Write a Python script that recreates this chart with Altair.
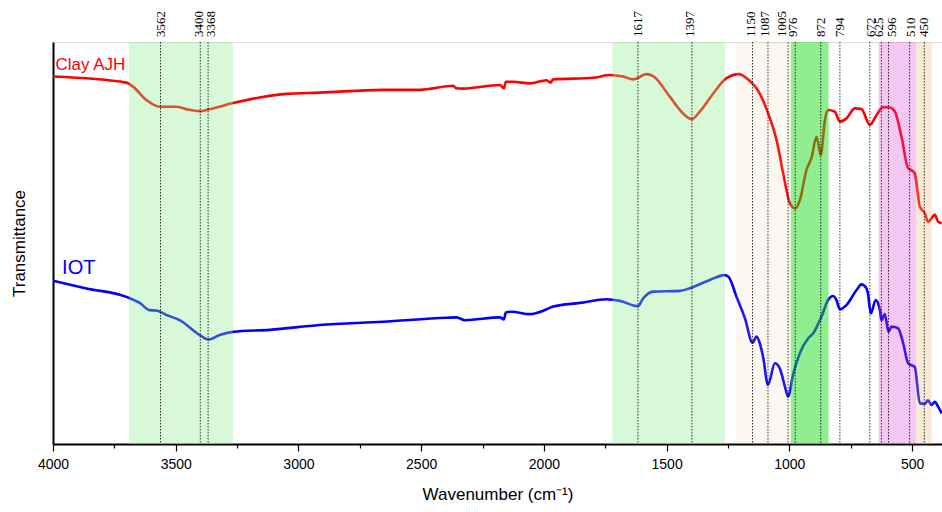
import altair as alt
import pandas as pd

wn_clay = [4000, 3701, 3674, 3620, 3565, 3498, 3457, 3402, 3362, 3267, 3158, 3050, 2914, 2656,
           2505, 2369, 2358, 2329, 2179, 2163, 2155, 2125, 2057, 1989, 1973, 1962, 1799, 1731,
           1677, 1636, 1582, 1555, 1487, 1446, 1397, 1365, 1310, 1256, 1205, 1174, 1154, 1134,
           1079, 1052, 1025, 998, 976, 957, 930, 910, 889, 872, 855, 842, 815, 794, 767, 733,
           706, 672, 645, 618, 591, 570, 543, 516, 505, 489, 468, 448, 435, 407, 394, 379]
t_clay = [91.4, 89.9, 88.9, 85.6, 83.9, 83.9, 83.3, 82.8, 83.3, 84.8, 86.2, 87.1, 87.4, 88.1,
          88.1, 89.1, 88.5, 88.4, 89.3, 88.5, 90.1, 90.1, 89.7, 90.5, 89.9, 90.7, 91.1, 91.8,
          91.4, 90.7, 92.0, 91.5, 86.4, 83.1, 80.8, 82.7, 87.2, 91.0, 92.0, 91.0, 89.9, 88.5,
          81.0, 75.6, 67.3, 59.9, 58.6, 60.7, 68.2, 71.1, 76.4, 71.9, 80.6, 83.1, 82.7, 80.2, 81.0, 83.5,
          83.3, 79.4, 81.8, 83.8, 83.7, 82.7, 76.4, 68.6, 68.2, 67.3, 59.0, 57.4, 55.3, 57.0, 55.3, 54.9]

wn_iot = [4000, 3864, 3701, 3647, 3606, 3579, 3538, 3484, 3402, 3368, 3321, 3267, 3117, 2914,
          2656, 2396, 2356, 2322, 2179, 2163, 2155, 2132, 2057, 1989, 1962, 1853, 1745, 1690,
          1617, 1596, 1555, 1446, 1408, 1324, 1265, 1248, 1215, 1181, 1150, 1134, 1120, 1107,
          1087, 1059, 1039, 1018, 1005, 985, 957, 923, 903, 869, 842, 822, 808, 794, 767, 726,
          706, 686, 680, 668, 648, 631, 625, 611, 596, 584, 557, 536, 516, 505, 489, 468, 448,
          435, 421, 407, 394, 379]
t_iot = [40.6, 38.7, 36.6, 35.1, 33.3, 33.2, 32.1, 30.8, 27.1, 26.0, 27.1, 27.9, 28.4, 29.6,
         30.4, 31.4, 31.5, 30.8, 31.5, 31.0, 32.7, 32.9, 32.3, 33.5, 34.2, 35.1, 36.0, 35.6,
         34.3, 36.2, 37.9, 38.1, 38.7, 40.8, 42.0, 41.6, 36.6, 31.3, 25.2, 26.7, 25.0, 21.7,
         14.7, 20.1, 18.8, 14.3, 11.8, 17.2, 22.6, 26.3, 27.5, 31.7, 35.8, 36.8, 35.8, 33.5, 34.6, 38.3,
         39.7, 38.7, 37.5, 32.5, 35.8, 33.3, 30.8, 32.3, 27.9, 29.2, 28.8, 25.0, 20.1, 19.7, 19.2, 10.1, 10.0,
         10.9, 9.7, 10.5, 9.3, 7.6]

peaks = [3562, 3400, 3368, 1617, 1397, 1150, 1087, 1005, 976, 872, 794, 672, 625, 596, 510, 450]

band_start = [3690, 1720, 1219, 994, 636, 484]
band_end = [3267, 1263, 994, 840, 484, 420]

x_ticks = list(range(4000, 377, -250))

# ---- styles ----
band_fill = ["#90ee90", "#90ee90", "#f0c090", "#22dd22", "#dd44dd", "#e8b878"]
band_alpha = [0.35, 0.35, 0.12, 0.5, 0.3, 0.3]
# horizontal nudges (pixels, + = right) for crowded peak labels
label_nudge_px = {3400: -1.5, 3368: 3, 1397: -2, 1150: -2, 1087: -3, 1005: -6, 976: -2,
                  672: 1, 625: -2, 596: 4, 510: 1}
PX_PER_CM = 889 / (4000 - 378)

clay = pd.DataFrame({"wn": wn_clay, "t": t_clay})
iot = pd.DataFrame({"wn": wn_iot, "t": t_iot})
bands = pd.DataFrame({"start": band_start, "end": band_end, "fill": band_fill, "alpha": band_alpha})
pk = pd.DataFrame({"peak": peaks, "label": [str(p) for p in peaks],
                   "nudge": [label_nudge_px.get(p, 0) / PX_PER_CM for p in peaks]})
names = pd.DataFrame({"wn": [3990, 3963], "t": [94.3, 43.8], "name": ["Clay AJH", "IOT"],
                      "col": ["#ff0000", "#0000ff"], "size": [17, 20]})

xscale = alt.Scale(domain=[4000, 378], nice=False, zero=False)
yscale = alt.Scale(domain=[0, 100], nice=False, zero=False)

xaxis = alt.Axis(values=x_ticks, format="d",
                 labelExpr="datum.value % 500 === 0 ? datum.label : ''",
                 title="Wavenumber (cm⁻¹)", grid=False,
                 tickSize={"condition": {"test": "datum.value % 500 === 0", "value": 7}, "value": 4},
                 tickColor="black", tickWidth=1.2, domainColor="black", domainWidth=2,
                 labelFont="Liberation Sans", labelFontSize=14, labelColor="black", labelPadding=6,
                 titleFont="Liberation Sans", titleFontSize=17, titleFontWeight="normal",
                 titleColor="black", titlePadding=15, labelFlush=False)
yaxis = alt.Axis(labels=False, ticks=False, grid=False, title="Transmittance",
                 domainColor="black", domainWidth=2,
                 titleFont="Liberation Sans", titleFontSize=17, titleFontWeight="normal",
                 titleColor="black", titlePadding=25)

X = alt.X("wn:Q", scale=xscale, axis=xaxis)
Y = alt.Y("t:Q", scale=yscale, axis=yaxis)

l_clay = alt.Chart(clay).mark_line(color="#ff0000", strokeWidth=2.6, interpolate="monotone",
                                   clip=True).encode(x=X, y=Y, order="wn:Q")
l_iot = alt.Chart(iot).mark_line(color="#0000ff", strokeWidth=2.6, interpolate="monotone",
                                 clip=True).encode(x=X, y=Y, order="wn:Q")

r_bands = alt.Chart(bands).mark_rect(clip=True).encode(
    x=alt.X("start:Q", scale=xscale, axis=xaxis),
    x2="end:Q",
    color=alt.Color("fill:N", scale=None),
    opacity=alt.Opacity("alpha:Q", scale=None),
)

r_peaks = alt.Chart(pk).mark_rule(color="black", strokeWidth=0.8, strokeDash=[1.5, 1.5]).encode(
    x=alt.X("peak:Q", scale=xscale, axis=xaxis)
)

t_peaks = alt.Chart(pk).transform_calculate(lx="datum.peak - datum.nudge").mark_text(
    angle=270, align="left", baseline="middle",
    font="Liberation Serif", fontSize=13, color="black").encode(
    x=alt.X("lx:Q", scale=xscale, axis=xaxis),
    y=alt.value(-5),
    text="label:N",
)

t_names = alt.Chart(names).mark_text(align="left", baseline="middle", font="Liberation Sans").encode(
    x=X, y=Y, text="name:N",
    color=alt.Color("col:N", scale=None),
    size=alt.Size("size:Q", scale=None),
)

chart = alt.layer(l_clay, l_iot, r_bands, r_peaks, t_peaks, t_names).properties(
    width=889, height=402,
    autosize=alt.AutoSizeParams(type="none"),
    padding={"left": 53, "top": 42, "right": 0, "bottom": 68},
).configure_view(stroke="black", strokeWidth=2).configure(background="white")

chart.save("out.html", embed_options={"renderer": "svg", "actions": False})
